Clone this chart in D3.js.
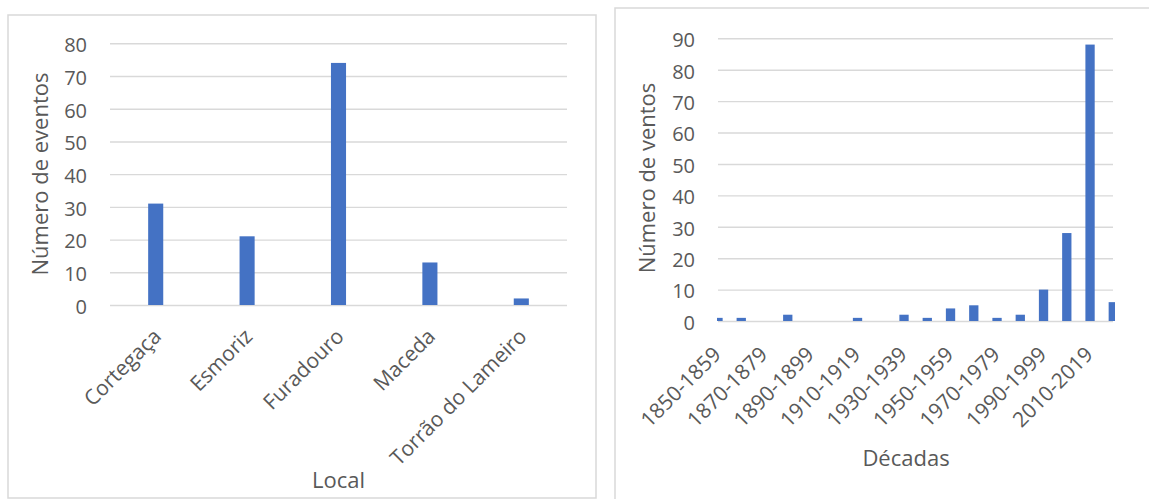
<!DOCTYPE html>
<html>
<head>
<meta charset="utf-8">
<script src="https://cdn.jsdelivr.net/npm/d3@7"></script>
<style>
  html, body { margin: 0; padding: 0; background: #fff; }
  svg { display: block; }
  text { font-family: "Open Sans", sans-serif; fill: #595959; }
</style>
</head>
<body>
<svg id="chart" width="1149" height="499"></svg>
<script>
// ---- Data ----
const locais = ["Cortegaça", "Esmoriz", "Furadouro", "Maceda", "Torrão do Lameiro"];
const eventos = [31, 21, 74, 13, 2];
const ticksEsq = [0, 10, 20, 30, 40, 50, 60, 70, 80];

const decadas = ["1850-1859", "1860-1869", "1870-1879", "1880-1889", "1890-1899", "1900-1909",
  "1910-1919", "1920-1929", "1930-1939", "1940-1949", "1950-1959", "1960-1969",
  "1970-1979", "1980-1989", "1990-1999", "2000-2009", "2010-2019", "2020-2029"];
const ventos = [1, 1, 0, 2, 0, 0, 1, 0, 2, 1, 4, 5, 1, 2, 10, 28, 88, 6];
const ticksDir = [0, 10, 20, 30, 40, 50, 60, 70, 80, 90];

const BAR = "#4472C4", GRID = "#d9d9d9", FRAME = "#d9d9d9";
const svg = d3.select("#chart");

// ---- Frames ----
svg.append("rect").attr("x", 8).attr("y", 15).attr("width", 588).attr("height", 483)
  .attr("fill", "none").attr("stroke", FRAME).attr("stroke-width", 1.5);
svg.append("rect").attr("x", 615).attr("y", 8).attr("width", 600).attr("height", 520)
  .attr("fill", "none").attr("stroke", FRAME).attr("stroke-width", 1.5);

function styleAxis(g) {
  g.select(".domain").remove();
  g.selectAll(".tick line").attr("stroke", GRID).attr("stroke-width", 1.4);
  g.selectAll(".tick text").style("font-size", "20px").attr("fill", "#595959");
}

// ---- Left chart ----
{
  const x = d3.scaleBand().domain(locais).range([110, 567]);
  const y = d3.scaleLinear().domain([0, 80]).range([305, 43.3]);
  const bw = x.bandwidth() * 0.165;

  const gy = svg.append("g").attr("transform", "translate(110,0)")
    .call(d3.axisLeft(y).tickValues(ticksEsq).tickSize(-457).tickPadding(23));
  styleAxis(gy);
  gy.selectAll(".tick text").attr("dy", "0.42em");

  svg.append("g").selectAll("rect").data(eventos).join("rect")
    .attr("x", (d, i) => x(locais[i]) + x.bandwidth() / 2 - bw / 2)
    .attr("y", d => y(d))
    .attr("width", bw)
    .attr("height", d => y(0) - y(d))
    .attr("fill", BAR);

  const gx = svg.append("g").attr("transform", "translate(0,305)")
    .call(d3.axisBottom(x).tickSize(0));
  gx.select(".domain").remove();
  gx.selectAll(".tick text")
    .style("font-size", "21px")
    .attr("text-anchor", "end")
    .attr("y", 0).attr("dy", "0.72em")
    .attr("transform", "translate(-4,22) rotate(-45)");

  svg.append("text").attr("x", 338.5).attr("y", 488).attr("text-anchor", "middle")
    .style("font-size", "22px").text("Local");
  svg.append("text").attr("transform", "translate(48,174) rotate(-90)")
    .attr("text-anchor", "middle").style("font-size", "22px").text("Número de eventos");
}

// ---- Right chart ----
{
  const x = d3.scalePoint().domain(decadas).range([718, 1113.3]);
  const y = d3.scaleLinear().domain([0, 90]).range([321, 38.3]);
  const bw = 9.3;

  svg.append("clipPath").attr("id", "clipR").append("rect")
    .attr("x", 717).attr("y", 0).attr("width", 398).attr("height", 499);

  const gy = svg.append("g").attr("transform", "translate(718,0)")
    .call(d3.axisLeft(y).tickValues(ticksDir).tickSize(-395).tickPadding(23));
  styleAxis(gy);
  gy.selectAll(".tick text").attr("dy", "0.42em");

  svg.append("g").attr("clip-path", "url(#clipR)")
    .selectAll("rect").data(ventos).join("rect")
    .attr("x", (d, i) => x(decadas[i]) - bw / 2)
    .attr("y", d => y(d))
    .attr("width", bw)
    .attr("height", d => y(0) - y(d))
    .attr("fill", BAR);

  const gx = svg.append("g").attr("transform", "translate(0,321)")
    .call(d3.axisBottom(x).tickSize(0).tickValues(decadas.filter((d, i) => i % 2 === 0 && i < 17)));
  gx.select(".domain").remove();
  gx.selectAll(".tick text")
    .style("font-size", "21px")
    .attr("text-anchor", "end")
    .attr("y", 0).attr("dy", "0.72em")
    .attr("transform", "translate(-7,24) rotate(-45)");

  svg.append("text").attr("x", 906).attr("y", 466).attr("text-anchor", "middle")
    .style("font-size", "22px").text("Décadas");
  svg.append("text").attr("transform", "translate(655,178) rotate(-90)")
    .attr("text-anchor", "middle").style("font-size", "22px").text("Número de ventos");
}
</script>
</body>
</html>
